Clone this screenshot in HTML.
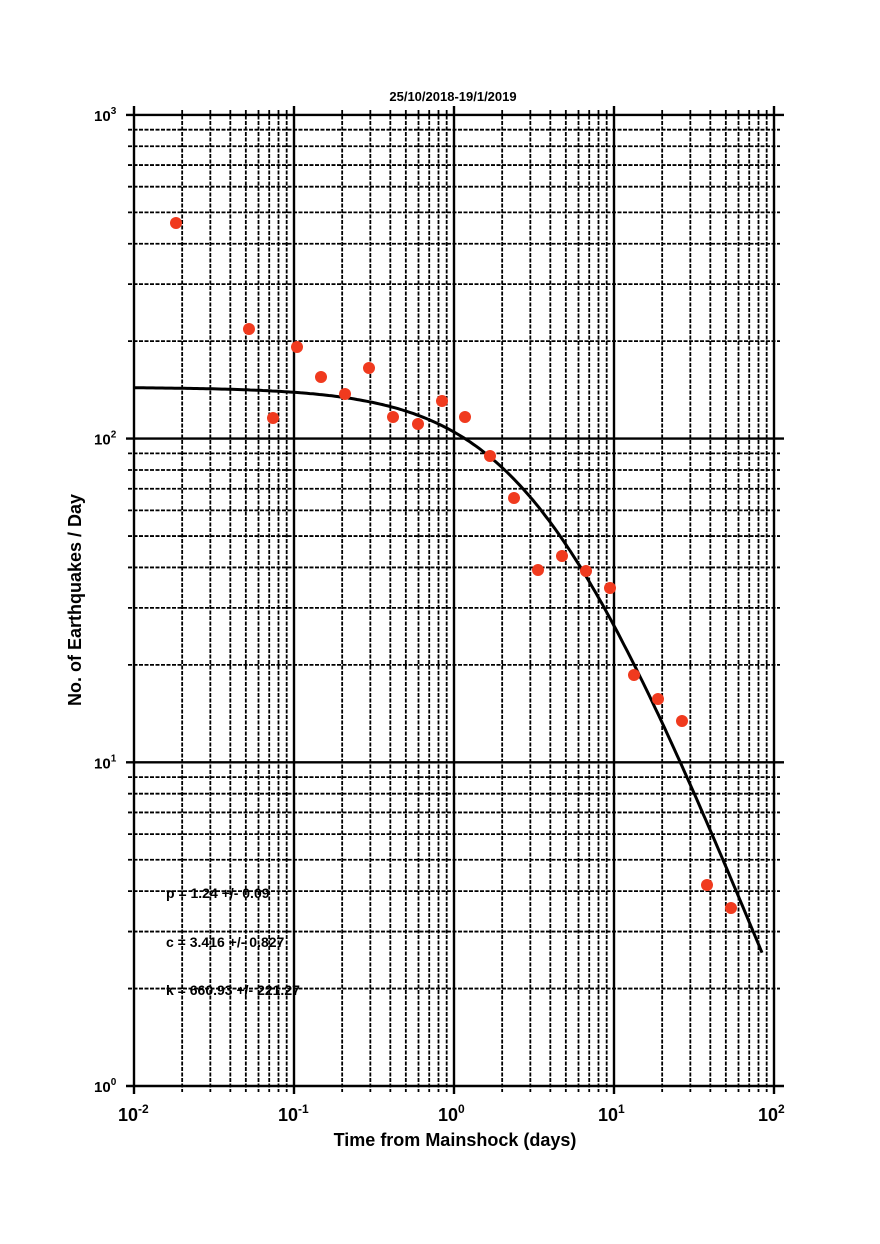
<!DOCTYPE html>
<html><head><meta charset="utf-8"><style>
body{margin:0;background:#fff;}
svg{display:block;font-family:"Liberation Sans",Arial,sans-serif;font-weight:bold;}
</style></head><body>
<svg id="s" width="880" height="1244" xmlns="http://www.w3.org/2000/svg"></svg>
<script>
const X0=134,DX=160,Y0=1086,DY=323.7;
const sx=l=>X0+(l+2)*DX, sy=l=>Y0-l*DY;
let h='';
for(let d=-2;d<2;d++){for(let m=2;m<=9;m++){const x=sx(d+Math.log10(m));
h+=`<line x1="${x}" y1="110" x2="${x}" y2="1092" stroke="#000" stroke-width="1.8" stroke-dasharray="4,1.5"/>`;}}
for(let d=0;d<3;d++){for(let m=2;m<=9;m++){const y=sy(d+Math.log10(m));
h+=`<line x1="128" y1="${y}" x2="780" y2="${y}" stroke="#000" stroke-width="1.8" stroke-dasharray="4,1.5"/>`;}}
for(let d=-2;d<=2;d++){const x=sx(d);h+=`<line x1="${x}" y1="106" x2="${x}" y2="1094" stroke="#000" stroke-width="2.4"/>`;}
for(let d=0;d<=3;d++){const y=sy(d);h+=`<line x1="126" y1="${y}" x2="784" y2="${y}" stroke="#000" stroke-width="2.4"/>`;}
for(let d=-2;d<=2;d++){const x=sx(d);h+=`<text x="${x-16}" y="1121" font-size="18">10<tspan dy="-8" font-size="12">${d}</tspan></text>`;}
for(let d=0;d<=3;d++){const y=sy(d);h+=`<text x="94" y="${y+6}" font-size="15">10<tspan dy="-7" font-size="10">${d}</tspan></text>`;}
let p='';for(let i=0;i<=200;i++){const l=-2+i*(1.925+2)/200;const t=Math.pow(10,l);const n=660.93/Math.pow(t+3.416,1.24);
p+=(i?'L':'M')+sx(l).toFixed(1)+','+sy(Math.log10(n)).toFixed(1);}
h+=`<path d="${p}" fill="none" stroke="#000" stroke-width="3"/>`;
const pts=[[176,223],[249,329],[273,418],[297,347],[321,377],[345,394],[369,368],[393,417],[418,424],[442,401],[465,417],[490,456],[514,498],[538,570],[562,556],[586,571],[610,588],[634,675],[658,699],[682,721],[707,885],[731,908]];
for(const [x,y] of pts)h+=`<circle cx="${x}" cy="${y}" r="6" fill="#f03a1e"/>`;
h+=`<text x="453" y="101" font-size="13" text-anchor="middle">25/10/2018-19/1/2019</text>`;
h+=`<text x="455" y="1146" font-size="18" text-anchor="middle">Time from Mainshock (days)</text>`;
h+=`<text transform="translate(81,600) rotate(-90)" font-size="18" text-anchor="middle">No. of Earthquakes / Day</text>`;
h+=`<text x="166" y="898" font-size="14">p = 1.24 +/- 0.09</text>`;
h+=`<text x="166" y="947" font-size="14">c = 3.416 +/- 0.827</text>`;
h+=`<text x="166" y="995" font-size="14">k = 660.93 +/- 221.27</text>`;
document.getElementById('s').innerHTML=h;
</script>
</body></html>
